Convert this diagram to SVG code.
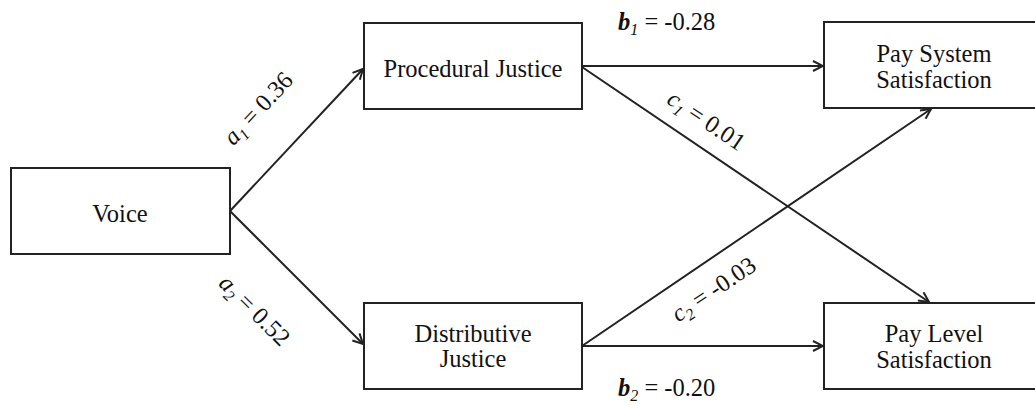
<svg xmlns="http://www.w3.org/2000/svg" width="1035" height="405" viewBox="0 0 1035 405">
<style>
.box{fill:#fff;stroke:#222;stroke-width:2}
.t{font-family:"Liberation Serif","Times New Roman",serif;font-size:24.5px;fill:#111;text-anchor:middle}
.lbl{font-family:"Liberation Serif","Times New Roman",serif;font-size:24.5px;fill:#111}
.c{stroke:#222;stroke-width:2;fill:none;marker-end:url(#ah)}
</style>
<defs>
<marker id="ah" viewBox="0 0 12 12" refX="11" refY="6" markerWidth="12" markerHeight="12" markerUnits="userSpaceOnUse" orient="auto">
<path d="M1,1 L11,6 L1,11" fill="none" stroke="#222" stroke-width="2"/>
</marker>
</defs>
<rect width="1035" height="405" fill="#fff"/>
<g id="connectors">
<line class="c" x1="230" y1="211" x2="363" y2="69"/>
<line class="c" x1="230" y1="211" x2="363" y2="344"/>
<line class="c" x1="582" y1="66" x2="823" y2="66"/>
<line class="c" x1="582" y1="346" x2="823" y2="346"/>
<line class="c" x1="582" y1="67" x2="929" y2="302"/>
<line class="c" x1="582" y1="346" x2="931" y2="109"/>
</g>
<g id="voice"><rect class="box" x="11" y="168" width="219" height="86"/><text class="t" x="120" y="222">Voice</text></g>
<g id="procedural"><rect class="box" x="364" y="23" width="218" height="86"/><text class="t" x="473" y="77">Procedural Justice</text></g>
<g id="distributive"><rect class="box" x="364" y="303" width="218" height="86"/><text class="t" x="473" y="342">Distributive</text><text class="t" x="473" y="367">Justice</text></g>
<g id="paysystem"><rect class="box" x="824" y="22" width="220" height="86"/><text class="t" x="934" y="62">Pay System</text><text class="t" x="934" y="88">Satisfaction</text></g>
<g id="paylevel"><rect class="box" x="824" y="303" width="220" height="86"/><text class="t" x="934" y="342">Pay Level</text><text class="t" x="934" y="368">Satisfaction</text></g>
<g id="labels">
<text class="lbl" text-anchor="middle" transform="translate(264,114) rotate(-47)"><tspan font-style="italic">a</tspan><tspan font-style="italic" font-size="16" dy="5">1</tspan><tspan dy="-5"> = 0.36</tspan></text>
<text class="lbl" text-anchor="middle" transform="translate(249,316) rotate(45)"><tspan font-style="italic">a</tspan><tspan font-style="italic" font-size="16" dy="5">2</tspan><tspan dy="-5"> = 0.52</tspan></text>
<text class="lbl" x="618" y="30"><tspan font-style="italic" font-weight="bold">b</tspan><tspan font-style="italic" font-size="16" dy="5">1</tspan><tspan dy="-5"> = -0.28</tspan></text>
<text class="lbl" x="618" y="396"><tspan font-style="italic" font-weight="bold">b</tspan><tspan font-style="italic" font-size="16" dy="5">2</tspan><tspan dy="-5"> = -0.20</tspan></text>
<text class="lbl" text-anchor="middle" transform="translate(702,127) rotate(34)"><tspan font-style="italic">c</tspan><tspan font-style="italic" font-size="16" dy="5">1</tspan><tspan dy="-5"> = 0.01</tspan></text>
<text class="lbl" text-anchor="middle" transform="translate(718,296) rotate(-34)"><tspan font-style="italic">c</tspan><tspan font-style="italic" font-size="16" dy="5">2</tspan><tspan dy="-5"> = -0.03</tspan></text>
</g>
</svg>
